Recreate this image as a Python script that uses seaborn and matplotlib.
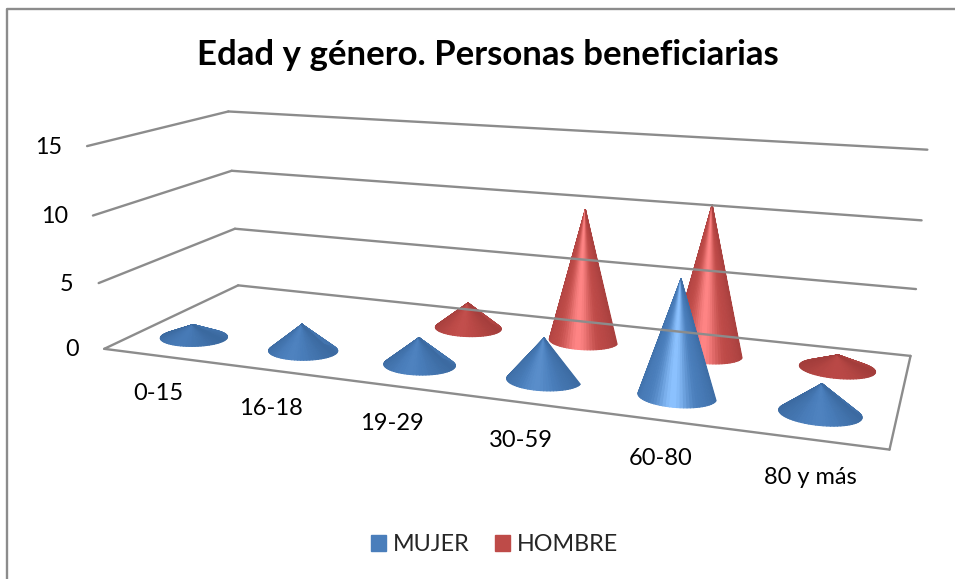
import numpy as np
import seaborn as sns
import matplotlib
matplotlib.use("Agg")
import matplotlib.pyplot as plt
from matplotlib.collections import PolyCollection
from matplotlib.patches import Patch

categorias = ["0-15", "16-18", "19-29", "30-59", "60-80", "80 y más"]
mujer = [1, 2, 2, 3, 8, 2]
hombre = [0, 0, 2, 10, 11, 1]
ticks = [0, 5, 10, 15]
titulo = "Edad y género. Personas beneficiarias"

sns.set_theme(style="white")
plt.rcParams["font.family"] = ["Lato", "DejaVu Sans"]

rampa_azul = sns.blend_palette(["#2c5585", "#4a7ebb", "#8cc2ff"], 101)
rampa_roja = sns.blend_palette(["#8a3130", "#be4b48", "#ff8585"], 101)

# camara: esquinas del suelo y de las paredes (x categoria, y fondo, z valor) -> pixel
# mas los centros de algunas bases para afinar la perspectiva
mundo = np.array([[0, 0, 0], [0, 1, 0], [6, 1, 0], [6, 0, 0],
                  [0, 0, 15], [0, 1, 15], [6, 1, 15],
                  [0, 0, 5], [0, 1, 5], [6, 1, 5],
                  [0, 0, 10], [0, 1, 10], [6, 1, 10],
                  [0.5, 0.25, 0], [1.5, 0.25, 0], [2.5, 0.25, 0], [3.5, 0.25, 0], [4.5, 0.25, 0], [5.5, 0.25, 0],
                  [2.5, 0.75, 0], [3.5, 0.75, 0], [4.5, 0.75, 0], [5.5, 0.75, 0]], float)
pixel = np.array([[104, 348], [238, 285], [910, 354], [889, 447],
                  [87, 146], [228, 112], [927.5, 149.5],
                  [99, 283], [235, 229], [916, 289],
                  [93, 215], [232, 171], [921.5, 220],
                  [194, 337], [303, 350], [420, 367], [543, 379], [678, 397], [820, 417],
                  [468, 327], [583, 342], [708, 354], [837, 369]], float)
filas = []
for (X, Y, Z), (u, v) in zip(mundo, pixel):
    filas.append([X, Y, Z, 1, 0, 0, 0, 0, -u * X, -u * Y, -u * Z, -u])
    filas.append([0, 0, 0, 0, X, Y, Z, 1, -v * X, -v * Y, -v * Z, -v])
P = np.linalg.svd(np.array(filas))[2][-1].reshape(3, 4)


def proyecta(x, y, z):
    h = P @ np.vstack([x, y, z, np.ones_like(x)])
    return np.column_stack([h[0] / h[2], h[1] / h[2]])


def linea(ax, a, b):
    q = proyecta(np.array([a[0], b[0]], float), np.array([a[1], b[1]], float), np.array([a[2], b[2]], float))
    ax.plot(q[:, 0], q[:, 1], color="#8c8c8c", lw=1.7, solid_capstyle="round")


def cono(ax, i, fondo, valor, rampa):
    if valor == 0:
        return
    n = 72
    th = np.linspace(0, 2 * np.pi, n + 1)
    xb = i + 0.5 + 0.28 * np.cos(th)
    yb = fondo + 0.115 * np.sin(th)
    base = proyecta(xb, yb, np.zeros_like(xb))
    cima = proyecta(np.array([i + 0.5]), np.array([fondo]), np.array([float(valor)]))[0]
    alto = min(valor / 8, 1)
    pico = 0.38 + 0.62 * alto
    suelo = 0.55 - 0.25 * alto
    detras, delante = [], []
    for k in range(n):
        tri = [cima, base[k], base[k + 1]]
        mitad = (th[k] + th[k + 1]) / 2
        luz = max(np.cos(mitad - np.radians(275)), 0) ** (2 + 12 * alto)
        col = rampa[int(100 * pico * (suelo + 0.25 * abs(np.sin(mitad)) + (0.75 - suelo) * luz))]
        (delante if np.sin(mitad) < 0 else detras).append((tri, col))
    # las caras de atras solo se ven en los conos bajos
    if valor <= 2:
        ax.add_collection(PolyCollection([g[0] for g in detras], facecolors=[g[1] for g in detras],
                                         edgecolors=[g[1] for g in detras], linewidths=0.8))
    ax.add_collection(PolyCollection([g[0] for g in delante], facecolors=[g[1] for g in delante],
                                     edgecolors=[g[1] for g in delante], linewidths=0.8))


fig = plt.figure(figsize=(9.55, 5.79), dpi=100)
ax = fig.add_axes([0, 0, 1, 1])
ax.set_xlim(0, 955)
ax.set_ylim(579, 0)
ax.axis("off")

# marco
ax.plot([7, 7, 955], [579, 8.5, 8.5], color="#8c8c8c", lw=1.7)

# paredes y suelo
for t in ticks:
    linea(ax, (0, 0, t), (0, 1, t))
    linea(ax, (0, 1, t), (6, 1, t))
linea(ax, (0, 0, 0), (6, 0, 0))
linea(ax, (6, 0, 0), (6, 1, 0))

for t in ticks:
    q = proyecta(np.array([0.0]), np.array([0.0]), np.array([float(t)]))[0]
    ax.text(q[0] - 25, q[1] + 1, str(t), ha="right", va="center", fontsize=16.8, color="black")

for i, c in enumerate(categorias):
    q = proyecta(np.array([i + 0.5]), np.array([0.0]), np.array([0.0]))[0]
    ax.text(q[0], q[1] + 38, c, ha="center", va="center", fontsize=17, color="black")

for i, v in enumerate(hombre):
    cono(ax, i, 0.75, v, rampa_roja)
for i, v in enumerate(mujer):
    cono(ax, i, 0.25, v, rampa_azul)

ax.text(488, 55, titulo, ha="center", va="center", fontsize=25, fontweight="bold", color="black")

ax.legend(handles=[Patch(color="#4a7ebb", label="MUJER"), Patch(color="#be4b48", label="HOMBRE")],
          ncol=2, loc="center", bbox_to_anchor=(494.5 / 955, 1 - 544.5 / 579), frameon=False, fontsize=16.8,
          handlelength=0.65, handleheight=0.65, handletextpad=0.3, columnspacing=1.05)

fig.savefig("out.png", dpi=100)
